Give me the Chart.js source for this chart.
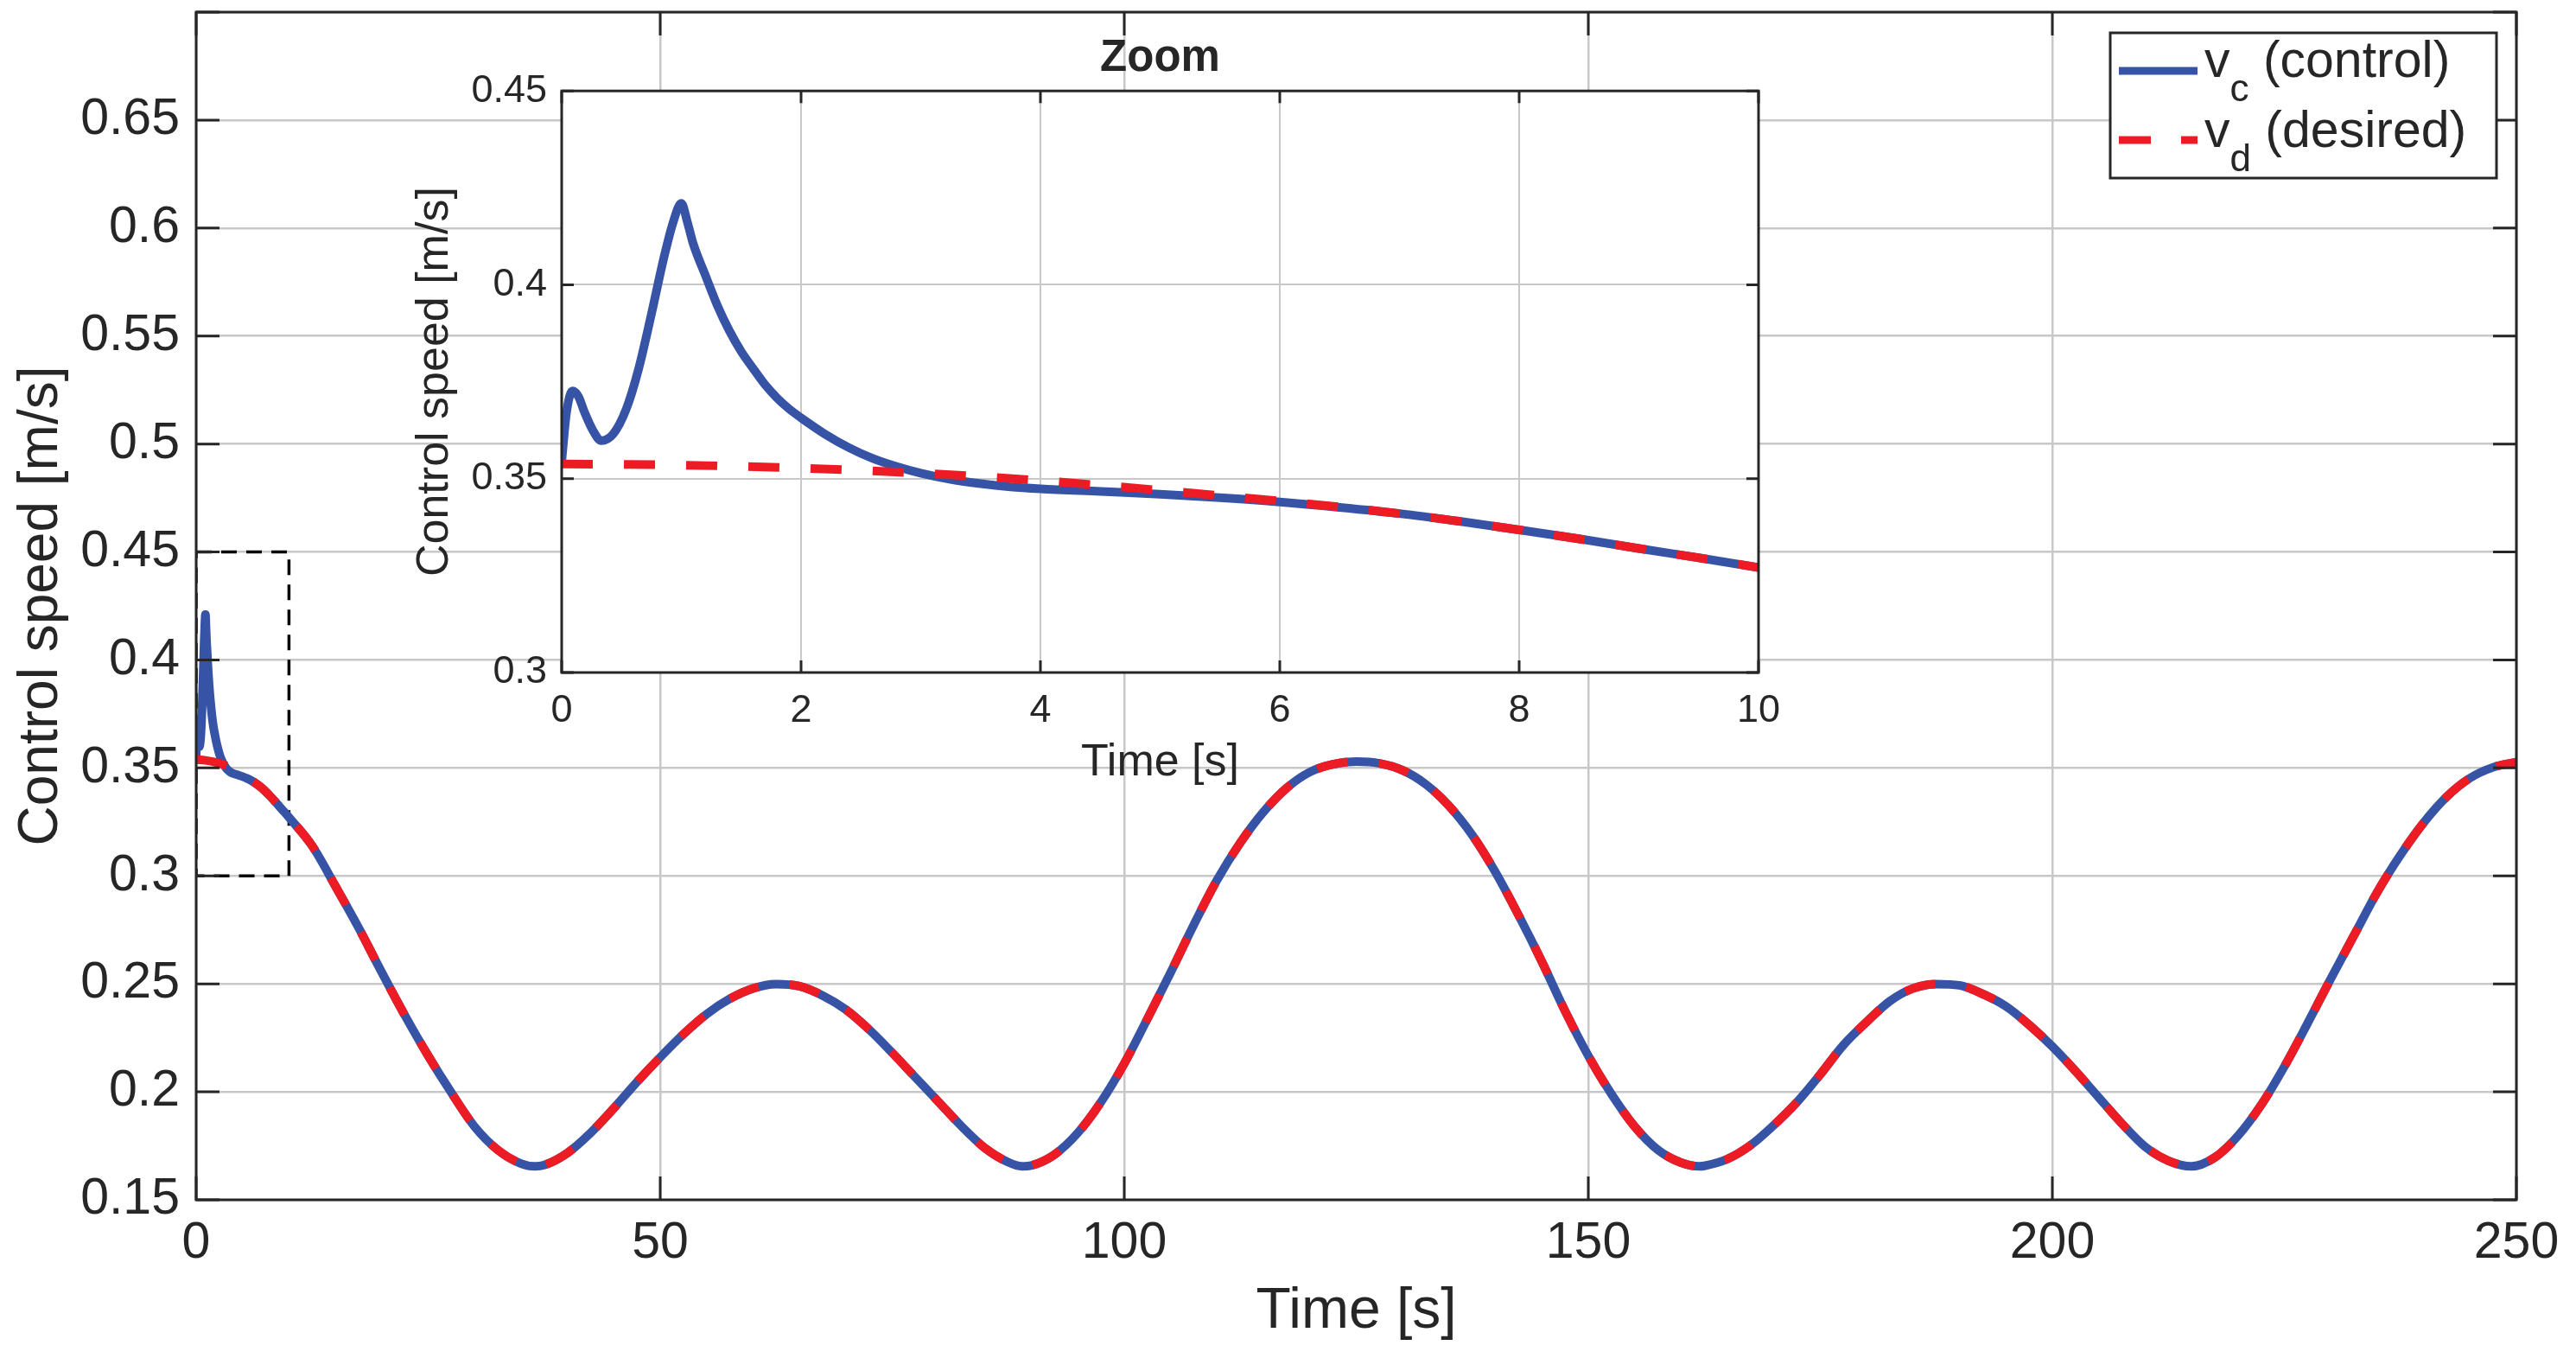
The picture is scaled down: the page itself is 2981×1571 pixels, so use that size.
<!DOCTYPE html>
<html>
<head>
<meta charset="utf-8">
<script src="https://cdn.jsdelivr.net/npm/chart.js@4.4.1/dist/chart.umd.min.js"></script>
<style>
  html, body { margin: 0; padding: 0; background: #fff; }
  #wrap { position: relative; width: 2981px; height: 1571px; }
  #wrap canvas { position: absolute; left: 0; top: 0; }
</style>
</head>
<body>
<div id="wrap">
  <canvas id="mainChart" width="2981" height="1571"></canvas>
  <canvas id="zoomChart" width="2981" height="1571"></canvas>
</div>
<script>
// Desired speed v_d (time in s, speed in m/s)
const timeS = [
  0, 1, 2, 3, 4, 5, 6, 7, 8, 9, 10,
  12.5, 15, 17.5, 20, 22.5, 25, 27.5, 30, 32.5, 35,
  36.5, 37.5, 40, 42.5, 45, 47.5, 50, 52.5, 55, 57.5, 60,
  62.5, 65, 67.5, 70, 72.5, 75, 77.5, 80, 82.5, 85,
  87.5, 89, 90, 92.5, 95, 97.5, 100, 102.5, 105, 107.5, 110,
  112.5, 115, 117.5, 120, 122.5, 125, 127.5, 130, 132.5, 135,
  137.5, 140, 142.5, 145, 147.5, 150, 152.5, 155, 157.5, 160,
  162, 162.5, 165, 167.5, 170, 172.5, 175, 177.5, 180, 182.5, 185,
  187.5, 190, 192.5, 195, 197.5, 200, 202.5, 205, 207.5, 210,
  212.5, 215, 217.5, 220, 222.5, 225, 227.5, 230, 232.5, 235,
  237.5, 240, 242.5, 245, 247.5, 250
];
const desiredV = [
  0.3538, 0.3535, 0.3527, 0.3514, 0.3495, 0.3470, 0.3442, 0.3410, 0.3368, 0.3320, 0.3271,
  0.3139, 0.2953, 0.2760, 0.2553, 0.2353, 0.2167, 0.1996, 0.1839, 0.1731, 0.1668,
  0.1655, 0.1661, 0.1717, 0.1810, 0.1924, 0.2046, 0.2160, 0.2267, 0.2360, 0.2431, 0.2479,
  0.2499, 0.2489, 0.2446, 0.2381, 0.2289, 0.2181, 0.2067, 0.1953, 0.1839, 0.1739,
  0.1674, 0.1655, 0.1659, 0.1710, 0.1810, 0.1953, 0.2131, 0.2339, 0.2553, 0.2774, 0.2981,
  0.3153, 0.3296, 0.3407, 0.3481, 0.3517, 0.3529, 0.3521, 0.3489, 0.3424, 0.3324,
  0.3189, 0.3017, 0.2817, 0.2603, 0.2374, 0.2167, 0.1989, 0.1839, 0.1731, 0.1672,
  0.1655, 0.1657, 0.1689, 0.1753, 0.1846, 0.1953, 0.2081, 0.2217, 0.2324, 0.2420, 0.2479,
  0.2499, 0.2493, 0.2453, 0.2396, 0.2310, 0.2210, 0.2096, 0.1974, 0.1853, 0.1746,
  0.1681, 0.1655, 0.1696, 0.1796, 0.1939, 0.2117, 0.2317, 0.2524, 0.2724, 0.2924,
  0.3096, 0.3246, 0.3367, 0.3453, 0.3503, 0.3527
];

// Control speed v_c during the start transient (0-10 s); afterwards it sits on v_d
const ctrlTimeS = [
  0, 0.04, 0.09, 0.14, 0.19, 0.26, 0.33, 0.43, 0.54, 0.64, 0.75, 0.85, 0.93, 1.0,
  1.05, 1.1, 1.2, 1.3, 1.4, 1.5, 1.6, 1.7, 1.8, 1.9, 2.0, 2.2, 2.4, 2.6, 2.8, 3.0,
  3.25, 3.5, 3.75, 4.0, 4.5, 5.0, 5.5, 6.0, 6.5, 7.0, 7.5, 8.0, 8.5, 9.0, 9.5, 10.0
];
const ctrlV = [
  0.3544, 0.3670, 0.3726, 0.3712, 0.3672, 0.3625, 0.3598, 0.3615, 0.3680, 0.3780, 0.3925, 0.4065, 0.4160, 0.4210,
  0.4162, 0.4105, 0.4025, 0.3947, 0.3882, 0.3828, 0.3784, 0.3742, 0.3708, 0.3680, 0.3657, 0.3615, 0.3580, 0.3552, 0.3531, 0.3514,
  0.3498, 0.3487, 0.3479, 0.3474, 0.3467, 0.3460, 0.3451, 0.3440, 0.3426, 0.3410, 0.3390, 0.3368, 0.3345, 0.3320, 0.3296, 0.3271
];

// Dashed box marking the zoomed region
const zoomBoxT = [0, 10, 10, 0, 0];
const zoomBoxV = [0.45, 0.45, 0.3, 0.3, 0.45];

const legendNames = [['v', 'c', ' (control)'], ['v', 'd', ' (desired)']];

const BLUE = '#3753a5';
const RED = '#ed1c24';
const INK = '#262626';
const GRID = '#c8c8c8';
const FONT = "'Liberation Sans', Arial, Helvetica, sans-serif";

Chart.defaults.font.family = FONT;
Chart.defaults.color = INK;

const desiredPts = timeS.map((t, i) => ({ x: t, y: desiredV[i] }));
const controlPts = ctrlTimeS.map((t, i) => ({ x: t, y: ctrlV[i] }))
  .concat(desiredPts.filter(p => p.x > 10));
const boxPts = zoomBoxT.map((t, i) => ({ x: t, y: zoomBoxV[i] }));

const fmt = v => String(+(+v).toFixed(2));

// axis boxes are placed by hand, so drop the half-label padding chart.js adds
function noEdgePad(s) {
  s.paddingTop = 0; s.paddingBottom = 0; s.paddingLeft = 0; s.paddingRight = 0;
}

// MATLAB-like box with ticks pointing inward
function boxTicks(len, lw) {
  return {
    id: 'boxTicks',
    afterDatasetsDraw(chart) {
      const { ctx, chartArea: a, scales: { x, y } } = chart;
      ctx.save();
      ctx.strokeStyle = INK;
      ctx.lineWidth = lw;
      ctx.beginPath();
      x.ticks.forEach(t => {
        const px = x.getPixelForValue(t.value);
        ctx.moveTo(px, a.bottom); ctx.lineTo(px, a.bottom - len);
        ctx.moveTo(px, a.top); ctx.lineTo(px, a.top + len);
      });
      y.ticks.forEach(t => {
        const py = y.getPixelForValue(t.value);
        ctx.moveTo(a.left, py); ctx.lineTo(a.left + len, py);
        ctx.moveTo(a.right, py); ctx.lineTo(a.right - len, py);
      });
      ctx.stroke();
      ctx.strokeRect(a.left, a.top, a.right - a.left, a.bottom - a.top);
      ctx.restore();
    }
  };
}

const legendBox = {
  id: 'legendBox',
  afterDraw(chart) {
    const ctx = chart.ctx;
    const bx = 2442, by = 38, bw = 447, bh = 168;
    ctx.save();
    ctx.fillStyle = '#fff';
    ctx.fillRect(bx, by, bw, bh);
    ctx.strokeStyle = INK;
    ctx.lineWidth = 3;
    ctx.strokeRect(bx, by, bw, bh);

    const rows = [
      { y: 82, base: 89, color: BLUE, dash: [] },
      { y: 162, base: 170, color: RED, dash: [37, 35] }
    ];
    rows.forEach((r, i) => {
      ctx.strokeStyle = r.color;
      ctx.lineWidth = 9;
      ctx.setLineDash(r.dash);
      ctx.beginPath();
      ctx.moveTo(2452, r.y);
      ctx.lineTo(2543, r.y);
      ctx.stroke();
      ctx.setLineDash([]);

      const [main, sub, rest] = legendNames[i];
      let tx = 2551;
      ctx.fillStyle = INK;
      ctx.textBaseline = 'alphabetic';
      ctx.textAlign = 'left';
      ctx.font = '59px ' + FONT;
      ctx.fillText(main, tx, r.base);
      tx += ctx.measureText(main).width;
      ctx.font = '44px ' + FONT;
      ctx.fillText(sub, tx, r.base + 28);
      tx += ctx.measureText(sub).width;
      ctx.font = '59px ' + FONT;
      ctx.fillText(rest, tx, r.base);
    });
    ctx.restore();
  }
};

new Chart(document.getElementById('mainChart'), {
  type: 'line',
  data: {
    datasets: [
      { data: desiredPts, borderColor: RED, borderWidth: 10, borderDash: [36, 36],
        cubicInterpolationMode: 'monotone', pointRadius: 0, fill: false },
      { data: controlPts, borderColor: BLUE, borderWidth: 10, borderJoinStyle: 'round',
        cubicInterpolationMode: 'monotone', pointRadius: 0, fill: false },
      { data: boxPts, borderColor: '#000', borderWidth: 3.5, borderDash: [18, 11],
        tension: 0, pointRadius: 0, fill: false }
    ]
  },
  options: {
    responsive: false,
    devicePixelRatio: 1,
    animation: false,
    layout: { padding: { left: 0, right: 69, top: 14, bottom: 0 } },
    plugins: { legend: { display: false }, tooltip: { enabled: false } },
    scales: {
      x: {
        type: 'linear', min: 0, max: 250,
        ticks: { stepSize: 50, font: { size: 59, lineHeight: 1.2 }, padding: 15, maxRotation: 0, autoSkip: false },
        grid: { color: GRID, lineWidth: 2.5, drawTicks: false },
        border: { display: false },
        title: { display: true, text: 'Time [s]', font: { size: 66, lineHeight: 1.2 }, padding: { top: 0, bottom: 14 } },
        afterFit(s) { s.height = 183; noEdgePad(s); }
      },
      y: {
        type: 'linear', min: 0.15, max: 0.7,
        ticks: { stepSize: 0.05, font: { size: 59, lineHeight: 1.2 }, padding: 19, autoSkip: false,
                 callback: v => (v > 0.69 ? '' : fmt(v)) },
        grid: { color: GRID, lineWidth: 2.5, drawTicks: false },
        border: { display: false },
        title: { display: true, text: 'Control speed [m/s]', font: { size: 64, lineHeight: 1.2 }, padding: { top: 10, bottom: 0 } },
        afterFit(s) { s.width = 227; noEdgePad(s); }
      }
    }
  },
  plugins: [boxTicks(27, 3), legendBox]
});

const whiteArea = {
  id: 'whiteArea',
  beforeDraw(chart) {
    const { ctx, chartArea: a } = chart;
    ctx.save();
    ctx.fillStyle = '#fff';
    ctx.fillRect(a.left, a.top, a.right - a.left, a.bottom - a.top);
    ctx.restore();
  }
};

new Chart(document.getElementById('zoomChart'), {
  type: 'line',
  data: {
    datasets: [
      { data: desiredPts.filter(p => p.x <= 12.5), borderColor: RED, borderWidth: 10, borderDash: [36, 36],
        cubicInterpolationMode: 'monotone', pointRadius: 0, fill: false },
      { data: controlPts.filter(p => p.x <= 12.5), borderColor: BLUE, borderWidth: 10, borderJoinStyle: 'round',
        cubicInterpolationMode: 'monotone', pointRadius: 0, fill: false }
    ]
  },
  options: {
    responsive: false,
    devicePixelRatio: 1,
    animation: false,
    layout: { padding: { left: 0, right: 946, top: 37, bottom: 631 } },
    plugins: {
      legend: { display: false },
      tooltip: { enabled: false },
      title: { display: true, text: 'Zoom', fullSize: false, color: INK,
               font: { size: 51, weight: 'bold', lineHeight: 1.2 }, padding: { top: 0, bottom: 7 } }
    },
    scales: {
      x: {
        type: 'linear', min: 0, max: 10,
        ticks: { stepSize: 2, font: { size: 45, lineHeight: 1.2 }, padding: 18, maxRotation: 0, autoSkip: false },
        grid: { color: GRID, lineWidth: 2, drawTicks: false },
        border: { display: false },
        title: { display: true, text: 'Time [s]', font: { size: 52, lineHeight: 1.2 }, padding: { top: 0, bottom: 26 } },
        afterFit(s) { s.height = 162; noEdgePad(s); }
      },
      y: {
        type: 'linear', min: 0.3, max: 0.45,
        ticks: { stepSize: 0.05, font: { size: 45, lineHeight: 1.2 }, padding: 17, autoSkip: false,
                 callback: v => fmt(v) },
        grid: { color: GRID, lineWidth: 2, drawTicks: false },
        border: { display: false },
        title: { display: true, text: 'Control speed [m/s]', font: { size: 52, lineHeight: 1.2 }, padding: { top: 472, bottom: 0 } },
        afterFit(s) { s.width = 650; noEdgePad(s); }
      }
    }
  },
  plugins: [whiteArea, boxTicks(14, 3)]
});
</script>
</body>
</html>
